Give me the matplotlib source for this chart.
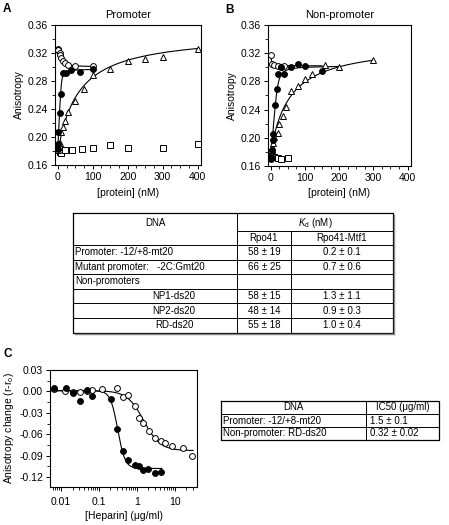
import numpy as np
import matplotlib
matplotlib.use("Agg")
import matplotlib.pyplot as plt
from matplotlib.ticker import MultipleLocator, FormatStrFormatter, FixedLocator

plt.rcParams['font.family'] = ['Liberation Sans', 'DejaVu Sans']
plt.rcParams['mathtext.fontset'] = 'custom'
plt.rcParams['mathtext.rm'] = 'Liberation Sans'
plt.rcParams['mathtext.it'] = 'Liberation Sans:italic'
plt.rcParams['axes.linewidth'] = 0.8
plt.rcParams['xtick.major.width'] = 0.7
plt.rcParams['ytick.major.width'] = 0.7
plt.rcParams['xtick.minor.width'] = 0.6
plt.rcParams['ytick.minor.width'] = 0.6

# ---- panel A : promoter ----
a_fill_x = [0, 0, 2, 5, 10, 15, 23, 39, 65, 100]
a_fill_y = [0.183, 0.190, 0.207, 0.235, 0.262, 0.291, 0.292, 0.296, 0.293, 0.297]
a_open_x = [0, 1, 2, 5, 6, 10, 14, 20, 30, 50, 100]
a_open_y = [0.326, 0.325, 0.324, 0.320, 0.317, 0.313, 0.309, 0.306, 0.303, 0.301, 0.301]
a_tri_x = [2, 5, 10, 15, 20, 30, 50, 75, 100, 150, 200, 250, 300, 400]
a_tri_y = [0.182, 0.192, 0.207, 0.215, 0.223, 0.236, 0.252, 0.269, 0.288, 0.297, 0.308, 0.311, 0.314, 0.326]
a_sq_x = [5, 10, 20, 40, 70, 100, 150, 200, 300, 400]
a_sq_y = [0.178, 0.177, 0.182, 0.181, 0.183, 0.185, 0.188, 0.184, 0.185, 0.190]

# ---- panel B : non-promoter ----
b_fill_x = [0, 1, 3, 6, 8, 12, 18, 22, 30, 40, 60, 80, 100, 150]
b_fill_y = [0.170, 0.173, 0.183, 0.197, 0.205, 0.246, 0.269, 0.291, 0.300, 0.291, 0.301, 0.305, 0.302, 0.295]
b_open_x = [0, 5, 10, 20, 30, 40]
b_open_y = [0.318, 0.305, 0.303, 0.302, 0.301, 0.302]
b_tri_x = [1, 2, 4, 6, 10, 20, 25, 35, 45, 60, 80, 100, 120, 160, 200, 300]
b_tri_y = [0.178, 0.183, 0.187, 0.193, 0.201, 0.207, 0.220, 0.231, 0.244, 0.266, 0.274, 0.284, 0.290, 0.303, 0.301, 0.310]
b_sq_x = [2, 5, 10, 20, 30, 50]
b_sq_y = [0.178, 0.175, 0.173, 0.172, 0.170, 0.172]

# fit parameters (r0, rmax, Kd, DNA, x end)
a_fits = {'fill': (0.183, 0.297, 0.5, 10, 100), 'open': (0.326, 0.300, 3, 10, 100),
          'tri': (0.178, 0.348, 58, 1, 400)}
b_fits = {'fill': (0.170, 0.302, 1.3, 20, 200), 'open': (0.319, 0.302, 1, 2, 150),
          'tri': (0.180, 0.334, 55, 1, 300)}

# ---- panel C : heparin ----
c_open_x = [0.0065, 0.0127, 0.021, 0.032, 0.047, 0.065, 0.12, 0.30, 0.44, 0.59,
            0.88, 1.15, 1.4, 2.1, 3.0, 4.2, 5.6, 8.3, 16, 28]
c_open_y = [0.004, 0.000, -0.001, -0.001, 0.000, 0.002, 0.004, 0.005, -0.008, -0.005,
            -0.021, -0.037, -0.044, -0.055, -0.066, -0.070, -0.072, -0.076, -0.079, -0.091]
c_fill_x = [0.0065, 0.0133, 0.021, 0.0316, 0.047, 0.064, 0.207, 0.29, 0.44, 0.59,
            0.88, 1.15, 1.45, 2.0, 2.9, 4.2]
c_fill_y = [0.005, 0.005, -0.002, -0.014, 0.002, -0.007, -0.010, -0.053, -0.084, -0.096,
            -0.103, -0.104, -0.110, -0.109, -0.115, -0.113]
c_fits = {'open': (0.001, -0.083, 1.5, 2.0, 30), 'fill': (0.001, -0.108, 0.31, 4.5, 4.5)}

# ---- tables ----
kd_dna = ['Promoter: -12/+8-mt20', 'Mutant promoter:   -2C:Gmt20', 'Non-promoters',
          'NP1-ds20', 'NP2-ds20', 'RD-ds20']
kd_rpo41 = ['58 ± 19', '66 ± 25', '', '58 ± 15', '48 ± 14', '55 ± 18']
kd_mtf1 = ['0.2 ± 0.1', '0.7 ± 0.6', '', '1.3 ± 1.1', '0.9 ± 0.3', '1.0 ± 0.4']
ic_dna = ['Promoter: -12/+8-mt20', 'Non-promoter: RD-ds20']
ic_vals = ['1.5 ± 0.1', '0.32 ± 0.02']


def bound(p, r0, rmax, kd, dna):
    s = dna + p + kd
    c = (s - np.sqrt(s * s - 4 * dna * p)) / 2
    return r0 + (rmax - r0) * c / dna


def hill(x, top, bottom, ic50, n):
    return top + (bottom - top) * x ** n / (ic50 ** n + x ** n)


W, H = 449, 525
fig = plt.figure(figsize=(W / 100, H / 100), dpi=100)


def px_axes(l, t, r, b):
    return fig.add_axes([l / W, 1 - b / H, (r - l) / W, (b - t) / H])


FS = 7.5
mk = dict(ms=4.2, mec='black', mew=0.7, ls='none', zorder=3)


def binding_panel(ax, title, fits, fill, opn, tri, sq):
    for key in ['tri', 'open', 'fill']:
        r0, rmax, kd, dna, xend = fits[key]
        xs = np.linspace(0, xend, 400)
        ax.plot(xs, bound(xs, r0, rmax, kd, dna), color='black', lw=0.8, zorder=2)
    ax.plot(*sq, marker='s', mfc='white', **mk)
    ax.plot(*tri, marker='^', mfc='white', **mk)
    ax.plot(*opn, marker='o', mfc='white', **mk)
    ax.plot(*fill, marker='o', mfc='black', **mk)
    ax.set_xlim(-8, 410)
    ax.set_ylim(0.16, 0.36)
    ax.xaxis.set_major_locator(MultipleLocator(100))
    ax.xaxis.set_minor_locator(MultipleLocator(25))
    ax.yaxis.set_major_locator(MultipleLocator(0.04))
    ax.yaxis.set_minor_locator(MultipleLocator(0.02))
    ax.yaxis.set_major_formatter(FormatStrFormatter('%.2f'))
    ax.tick_params(labelsize=FS, length=3, pad=2)
    ax.tick_params(which='minor', length=2)
    ax.set_xlabel('[protein] (nM)', fontsize=FS, labelpad=4)
    ax.set_ylabel('Anisotropy', fontsize=FS, labelpad=3)
    ax.set_title(title, fontsize=8, pad=5)


axA = px_axes(55, 25, 201, 165)
binding_panel(axA, 'Promoter', a_fits, (a_fill_x, a_fill_y), (a_open_x, a_open_y),
              (a_tri_x, a_tri_y), (a_sq_x, a_sq_y))
axB = px_axes(268, 25, 411, 166)
binding_panel(axB, 'Non-promoter', b_fits, (b_fill_x, b_fill_y), (b_open_x, b_open_y),
              (b_tri_x, b_tri_y), (b_sq_x, b_sq_y))

# panel C
axC = px_axes(50, 370, 197, 487)
for key in ['open', 'fill']:
    top, bot, ic50, n, xend = c_fits[key]
    xs = np.logspace(np.log10(0.005), np.log10(xend), 400)
    axC.plot(xs, hill(xs, top, bot, ic50, n), color='black', lw=0.8, zorder=2)
axC.plot(c_open_x, c_open_y, marker='o', mfc='white', **mk)
axC.plot(c_fill_x, c_fill_y, marker='o', mfc='black', **mk)
axC.set_xscale('log')
axC.set_xlim(0.0051, 38)
axC.set_ylim(-0.134, 0.03)
axC.xaxis.set_major_locator(FixedLocator([0.01, 0.1, 1, 10]))
axC.xaxis.set_major_formatter(FormatStrFormatter('%g'))
axC.yaxis.set_major_locator(MultipleLocator(0.03))
axC.yaxis.set_minor_locator(MultipleLocator(0.015))
axC.yaxis.set_major_formatter(FormatStrFormatter('%.2f'))
axC.tick_params(labelsize=FS, length=3, pad=2)
axC.tick_params(axis='x', pad=4)
axC.tick_params(which='minor', length=2)
axC.set_xlabel('[Heparin] (μg/ml)', fontsize=FS, labelpad=3)
axC.set_ylabel(r'Anisotropy change (r-r$_\mathrm{o}$)', fontsize=FS, labelpad=2)

# panel letters
fig.text(3 / W, 1 - 3 / H, 'A', fontsize=8.5, fontweight='bold', va='top')
fig.text(225 / W, 1 - 4 / H, 'B', fontsize=8.5, fontweight='bold', va='top')
fig.text(3 / W, 1 - 348 / H, 'C', fontsize=8.5, fontweight='bold', va='top')

# tables drawn in pixel coordinates on an overlay axes
ov = fig.add_axes([0, 0, 1, 1])
ov.set_xlim(0, W)
ov.set_ylim(H, 0)
ov.axis('off')
TS = 7
lk = dict(color='black', lw=0.7)

# Kd table
L, C1, C2, R = 73, 237, 291, 393
T, Hk, Hh = 213, 231, 245
rh = 14.6
rows_y = [Hh + rh * i for i in range(len(kd_dna) + 1)]
Bt = rows_y[-1]
ov.plot([L, R, R, L, L], [T, T, Bt, Bt, T], color='black', lw=0.9)
ov.plot([R + 1.2, R + 1.2], [T + 1.5, Bt + 1.2], color='#888888', lw=1.0)
ov.plot([L + 1.5, R + 1.2], [Bt + 1.2, Bt + 1.2], color='#888888', lw=1.0)
ov.plot([C1, R], [Hk, Hk], **lk)
ov.plot([C1, C1], [T, Bt], **lk)
ov.plot([C2, C2], [Hk, Bt], **lk)
for y in rows_y[:-1]:
    ov.plot([L, R], [y, y], **lk)
ov.text((L + C1) / 2, 222.5, 'DNA', fontsize=TS, ha='center', va='center')
ov.text((C1 + R) / 2, 222.5, r'$K_\mathrm{d}$ (nM)', fontsize=TS, ha='center', va='center')
ov.text((C1 + C2) / 2, (Hk + Hh) / 2, 'Rpo41', fontsize=TS, ha='center', va='center')
ov.text((C2 + R) / 2, (Hk + Hh) / 2, 'Rpo41-Mtf1', fontsize=TS, ha='center', va='center')
for i, name in enumerate(kd_dna):
    yc = rows_y[i] + rh / 2
    if i < 3:
        ov.text(L + 2, yc, name, fontsize=TS, ha='left', va='center')
    else:
        ov.text(174, yc, name, fontsize=TS, ha='center', va='center')
    ov.text((C1 + C2) / 2, yc, kd_rpo41[i], fontsize=TS, ha='center', va='center')
    ov.text((C2 + R) / 2, yc, kd_mtf1[i], fontsize=TS, ha='center', va='center')

# IC50 table
L2, D2, R2 = 221, 366, 439
T2, rh2 = 401, 13
ys2 = [T2 + rh2 * i for i in range(len(ic_dna) + 2)]
ov.plot([L2, R2, R2, L2, L2], [ys2[0], ys2[0], ys2[-1], ys2[-1], ys2[0]], color='black', lw=0.9)
for y in ys2[1:-1]:
    ov.plot([L2, R2], [y, y], **lk)
ov.plot([D2, D2], [ys2[0], ys2[-1]], **lk)
ov.text((L2 + D2) / 2, ys2[0] + rh2 / 2, 'DNA', fontsize=TS, ha='center', va='center')
ov.text((D2 + R2) / 2, ys2[0] + rh2 / 2, 'IC50 (μg/ml)', fontsize=TS, ha='center', va='center')
for i, name in enumerate(ic_dna):
    yc = ys2[i + 1] + rh2 / 2
    ov.text(L2 + 2, yc, name, fontsize=TS, ha='left', va='center')
    ov.text(D2 + 4, yc, ic_vals[i], fontsize=TS, ha='left', va='center')

fig.savefig('out.png', dpi=100)
